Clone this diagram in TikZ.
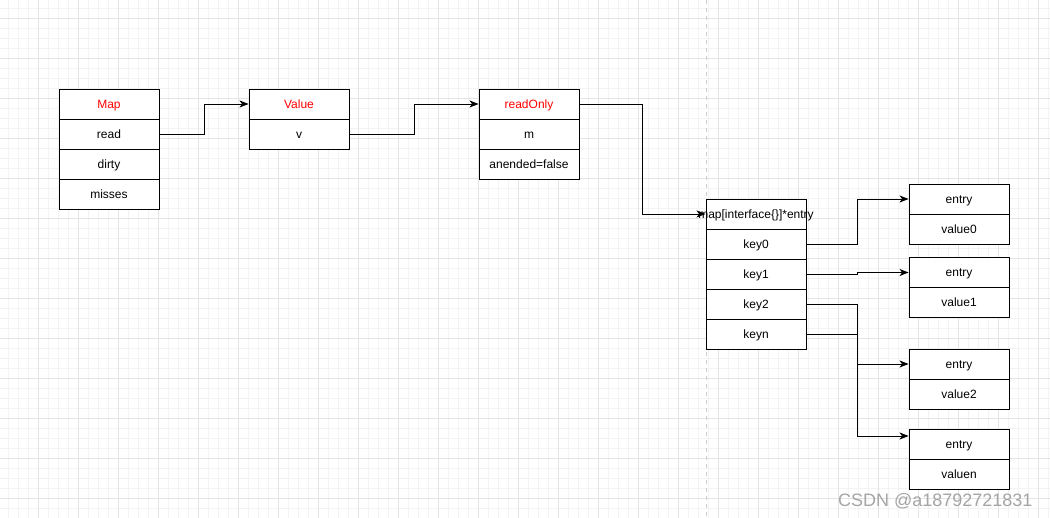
\documentclass[tikz,border=0pt]{standalone}
\usepackage{fontspec}
\setmainfont{Liberation Sans}
\usepackage{tikz}
\usetikzlibrary{arrows.meta,positioning,calc}
\definecolor{gridminor}{RGB}{243,243,243}
\definecolor{gridmajor}{RGB}{228,228,228}
\definecolor{pageline}{RGB}{205,205,205}
\definecolor{markgray}{RGB}{165,165,165}
\newcommand\Head[1]{\textcolor{red}{#1}}

\begin{document}
\begin{tikzpicture}[x=1pt, y=-1pt, on grid, node distance=30pt,
    cell/.style={draw, line width=0.9pt, fill=white, minimum width=100pt, minimum height=30pt,
      inner sep=0pt, text height=10pt, text depth=1.4pt, font=\fontsize{12}{14}\selectfont},
    link/.style={line width=0.9pt, -{Stealth[length=9pt,width=7pt,inset=2.5pt]}}]
      \useasboundingbox (0,0) rectangle (1050,518);
      \fill[white] (0,0) rectangle (1050,518);
      % grid
      \foreach \x in {8,18,...,1048} \draw[gridminor, line width=0.8pt] (\x,0) -- (\x,518);
      \foreach \y in {8,18,...,518} \draw[gridminor, line width=0.8pt] (0,\y) -- (1050,\y);
      \foreach \x in {38,78,...,1038} \draw[gridmajor, line width=0.8pt] (\x,0) -- (\x,518);
      \foreach \y in {18,58,...,498} \draw[gridmajor, line width=0.8pt] (0,\y) -- (1050,\y);
      \draw[pageline, line width=1pt, dash pattern=on 4pt off 4pt] (706,0) -- (706,518);

      % Map
      \node[cell] (map) at (109,104) {\Head{Map}};
      \node[cell, below=of map] (read) {read};
      \node[cell, below=of read] (dirty) {dirty};
      \node[cell, below=of dirty] (misses) {misses};

      % Value
      \node[cell] (value) at (299,104) {\Head{Value}};
      \node[cell, below=of value] (v) {v};

      % readOnly
      \node[cell] (ronly) at (529,104) {\Head{readOnly}};
      \node[cell, below=of ronly] (m) {m};
      \node[cell, below=of m] (amended) {anended=false};

      % map of entries
      \node[cell] (dict) at (756,214) {};
      \node[cell, below=of dict] (key0) {key0};
      \node[cell, below=of key0] (key1) {key1};
      \node[cell, below=of key1] (key2) {key2};
      \node[cell, below=of key2] (keyn) {keyn};

      % entries
      \node[cell] (entry0) at (959,199) {entry};
      \node[cell, below=of entry0] (value0) {value0};
      \node[cell] (entry1) at (959,272.5) {entry};
      \node[cell, below=of entry1] (value1) {value1};
      \node[cell] (entry2) at (959,364) {entry};
      \node[cell, below=of entry2] (value2) {value2};
      \node[cell] (entryn) at (959,444) {entry};
      \node[cell, below=of entryn] (valuen) {valuen};

      \draw[link] (read.east) -- ++(45,0) |- (value.west);
      \draw[link] (v.east) -- ++(65,0) |- (ronly.west);
      \draw[link] (ronly.east) -- ++(63,0) |- (dict.west);
      \draw[link] (key0.east) -- ++(51,0) |- (entry0.west);
      \draw[link] (key1.east) -- ++(51,0) |- (entry1.west);
      \draw[link] (key2.east) -- ++(51,0) |- (entry2.west);
      \draw[link] (keyn.east) -- ++(51,0) |- ($(entryn.west)+(0,-8)$);

      % the type name is wider than its box
      \node[cell, draw=none, fill=none] (dicttext) at (dict) {map[interface\{\}]*entry};

      \node[text=markgray, anchor=east, font=\fontsize{18}{20}\selectfont] (mark) at (1036,501) {CSDN @a18792721831};
    \end{tikzpicture}
\end{document}
